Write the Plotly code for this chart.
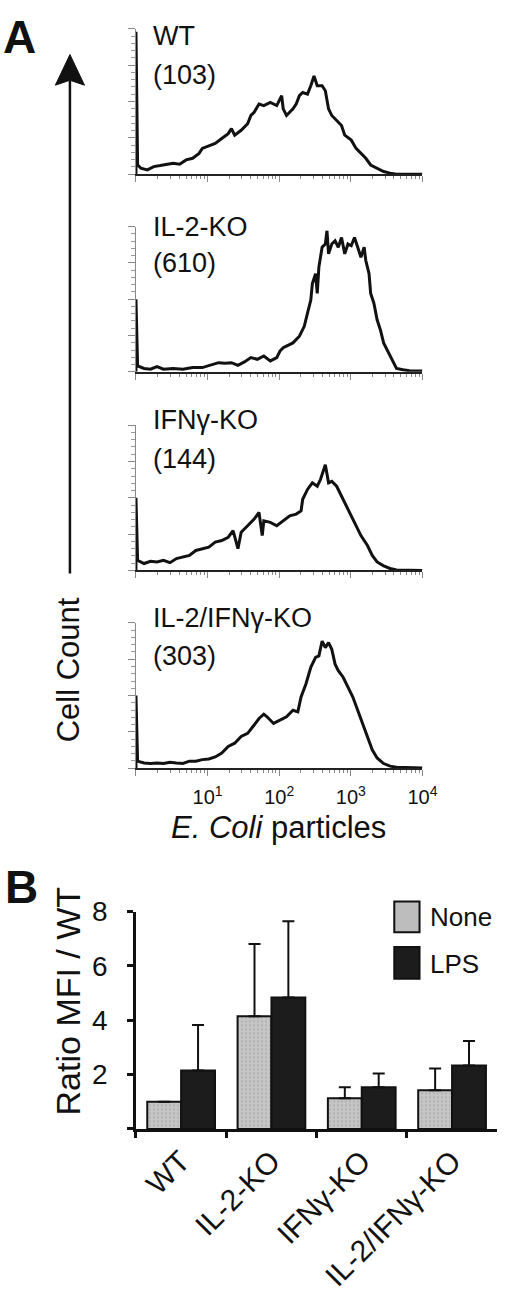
import plotly.graph_objects as go

W, H = 520, 1296
FONT = "Liberation Sans, Arial, Helvetica, sans-serif"


def px(x):
    return x / W


def py(y):
    return 1 - y / H


# ---------------- Panel A data (log10 position, relative cell count) ----------
genotypes = ["WT", "IL-2-KO", "IFNγ-KO", "IL-2/IFNγ-KO"]
mfi_labels = ["(103)", "(610)", "(144)", "(303)"]

wt_log = [0, 0, 0.023, 0.068, 0.158, 0.249, 0.339, 0.429, 0.520, 0.610, 0.700, 0.791,
          0.836, 0.881, 0.926, 1.017, 1.107, 1.198, 1.288, 1.333, 1.378, 1.469, 1.559,
          1.605, 1.650, 1.718, 1.785, 1.876, 1.966, 2.034, 2.056, 2.102, 2.147, 2.192,
          2.237, 2.282, 2.328, 2.395, 2.441, 2.486, 2.531, 2.599, 2.644, 2.689, 2.734,
          2.802, 2.870, 2.915, 3.006, 3.073, 3.141, 3.209, 3.277, 3.367, 3.458, 3.548,
          3.638, 4.0]
wt_cnt = [0, 98, 6.3, 4.1, 2.9, 5.2, 5.9, 6.8, 7.5, 6.8, 9.8, 10.9,
          12.7, 14.3, 17.7, 19.5, 21.1, 24.5, 27.9, 31.3, 26.8, 30.2, 34.7,
          40.4, 42.6, 48.3, 47.2, 49.4, 47.2, 54.0, 44.9, 40.4, 42.6, 44.9,
          48.3, 54.0, 56.2, 55.1, 60.8, 67.6, 60.8, 60.8, 57.4, 44.9, 40.4,
          36.9, 33.5, 26.8, 23.4, 17.7, 14.3, 10.9, 6.3, 4.1, 1.8, 0.7,
          0.0, 0.0]

il2_log = [0, 0, 0.023, 0.113, 0.203, 0.294, 0.384, 0.520, 0.655, 0.791, 0.926, 1.062,
           1.153, 1.243, 1.333, 1.424, 1.514, 1.605, 1.695, 1.785, 1.876, 1.966, 2.011,
           2.056, 2.102, 2.192, 2.282, 2.350, 2.395, 2.441, 2.463, 2.508, 2.531, 2.554,
           2.599, 2.644, 2.667, 2.689, 2.734, 2.780, 2.825, 2.870, 2.915, 2.960, 3.006,
           3.051, 3.096, 3.141, 3.186, 3.209, 3.254, 3.277, 3.322, 3.367, 3.412, 3.458,
           3.503, 3.548, 3.593, 3.638, 3.729, 3.819, 4.0]
il2_cnt = [0, 50, 4.1, 2.3, 1.8, 3.6, 1.8, 2.3, 1.8, 2.9, 2.9, 5.2,
           6.3, 5.9, 6.3, 4.5, 6.8, 9.8, 8.6, 10.9, 7.5, 9.8, 14.3,
           16.6, 17.7, 19.9, 24.5, 31.3, 40.4, 49.4, 60.8, 67.6, 54.0, 72.1,
           85.7, 88.0, 97.1, 81.2, 88.0, 90.2, 85.7, 92.5, 81.2, 88.0, 86.8,
           92.5, 85.7, 78.9, 85.7, 76.6, 67.6, 54.0, 47.2, 35.8, 29.0, 19.9,
           15.4, 10.9, 6.3, 2.3, 1.4, 0.7, 0.5]

ifn_log = [0, 0, 0.023, 0.113, 0.203, 0.294, 0.384, 0.475, 0.565, 0.655, 0.746, 0.836,
           0.926, 1.017, 1.107, 1.198, 1.288, 1.356, 1.424, 1.469, 1.559, 1.650, 1.718,
           1.763, 1.785, 1.876, 1.966, 2.056, 2.147, 2.237, 2.305, 2.328, 2.395, 2.463,
           2.531, 2.576, 2.644, 2.689, 2.734, 2.802, 2.870, 2.938, 3.006, 3.073, 3.141,
           3.232, 3.299, 3.367, 3.458, 3.548, 3.638, 4.0]
ifn_cnt = [0, 50, 7.0, 4.8, 6.3, 5.9, 7.0, 5.4, 8.2, 9.3, 10.4, 13.8,
           15.0, 16.1, 19.5, 20.6, 22.9, 27.4, 15.0, 26.3, 30.8, 35.4, 39.9,
           24.0, 34.2, 33.1, 30.8, 34.2, 37.6, 38.8, 41.0, 49.0, 55.8, 60.3,
           58.0, 62.6, 72.8, 60.3, 61.4, 58.0, 51.2, 44.4, 37.6, 30.8, 24.0,
           17.2, 10.4, 5.9, 3.2, 1.4, 0.3, 0.0]

dko_log = [0, 0, 0.023, 0.113, 0.203, 0.294, 0.384, 0.475, 0.565, 0.655, 0.746, 0.836,
           0.926, 1.017, 1.107, 1.198, 1.288, 1.378, 1.469, 1.559, 1.650, 1.718, 1.785,
           1.830, 1.921, 2.011, 2.102, 2.192, 2.260, 2.305, 2.373, 2.441, 2.508, 2.554,
           2.599, 2.644, 2.689, 2.734, 2.780, 2.825, 2.893, 2.960, 3.028, 3.096, 3.164,
           3.232, 3.299, 3.367, 3.458, 3.548, 3.638, 4.0]
dko_cnt = [0, 50, 4.8, 3.6, 3.2, 3.6, 3.2, 4.1, 3.6, 3.2, 4.8, 4.8,
           5.9, 6.3, 7.7, 10.4, 15.0, 17.2, 21.8, 24.0, 29.7, 34.2, 37.2,
           35.4, 30.8, 33.1, 35.4, 39.9, 38.8, 49.0, 58.0, 69.4, 76.2, 77.3,
           87.5, 83.0, 86.4, 81.8, 71.6, 67.1, 62.6, 55.8, 49.0, 39.9, 30.8,
           21.8, 12.7, 7.0, 3.2, 1.4, 0.7, 0.2]

hist_logs = [wt_log, il2_log, ifn_log, dko_log]
hist_cnts = [wt_cnt, il2_cnt, ifn_cnt, dko_cnt]

hist_xticks = [1, 10, 100, 1000, 10000]
hist_xticktext = ["", "10<sup>1</sup>", "10<sup>2</sup>", "10<sup>3</sup>", "10<sup>4</sup>"]

# ---------------- Panel B data ----------------
bar_categories = ["WT", "IL-2-KO", "IFNγ-KO", "IL-2/IFNγ-KO"]
none_vals = [1.0, 4.15, 1.13, 1.42]
none_err = [None, 2.65, 0.40, 0.80]
lps_vals = [2.15, 4.84, 1.53, 2.33]
lps_err = [1.67, 2.80, 0.51, 0.91]
bar_yticks = [0, 2, 4, 6, 8]
bar_yticktext = ["", "2", "4", "6", "8"]

# ---------------- geometry (reference pixels) ----------------
hist_top = [14, 214, 415, 615]
hist_h = 147
hist_x0, hist_x1 = 140, 435
label_off1 = [7, 0, -5, -5]
label_off2 = [47, 37, 34, 33]

fig = go.Figure()
layout = dict(
    width=W, height=H,
    margin=dict(l=0, r=0, t=0, b=0),
    paper_bgcolor="white", plot_bgcolor="white",
    showlegend=False,
    font=dict(family=FONT, color="#111"),
    barmode="group", bargap=0.25, bargroupgap=0.0,
)

minor_x = [m * 10 ** d for d in range(4) for m in range(2, 10)]
annotations = []
shapes = []

for i in range(4):
    n = i + 1
    xs = [10 ** v for v in hist_logs[i]]
    fig.add_trace(go.Scatter(
        x=xs, y=hist_cnts[i], mode="lines",
        line=dict(color="#111", width=3),
        xaxis=f"x{n}", yaxis=f"y{n}", hoverinfo="skip"))
    top = hist_top[i]
    bot = top + hist_h
    last = (i == 3)
    layout[f"xaxis{n}"] = dict(
        type="log", range=[0, 4], domain=[px(hist_x0), px(hist_x1)],
        anchor=f"y{n}", showline=True, linecolor="#222", linewidth=2,
        showgrid=False, zeroline=False,
        tickmode="array", tickvals=hist_xticks, ticktext=hist_xticktext,
        ticks="outside", ticklen=6, tickwidth=1, tickcolor="#888",
        showticklabels=last, tickfont=dict(size=20, color="#111"),
        ticklabelstandoff=4,
        minor=dict(tickmode="array", tickvals=minor_x, ticks="outside",
                   ticklen=3, tickwidth=1, tickcolor="#888"),
    )
    layout[f"yaxis{n}"] = dict(
        range=[0, 100], domain=[py(bot), py(top)], anchor=f"x{n}",
        showline=True, linecolor="#888", linewidth=1,
        showgrid=False, zeroline=False, showticklabels=False,
        tickmode="array", tickvals=[0, 25, 50, 75, 100],
        ticks="outside", ticklen=7, tickwidth=1, tickcolor="#888",
        minor=dict(tickmode="array", tickvals=list(range(0, 101, 5)),
                   ticks="outside", ticklen=4, tickwidth=1, tickcolor="#999"),
    )
    annotations.append(dict(
        x=px(155), y=py(top + label_off1[i]), xref="paper", yref="paper",
        text=genotypes[i], showarrow=False, xanchor="left", yanchor="middle",
        font=dict(size=27, color="#111")))
    annotations.append(dict(
        x=px(155), y=py(top + label_off2[i]), xref="paper", yref="paper",
        text=mfi_labels[i], showarrow=False, xanchor="left", yanchor="middle",
        font=dict(size=27, color="#111")))

# Bars
fig.add_trace(go.Bar(
    x=bar_categories, y=none_vals, name="None",
    marker=dict(color="#bdbdbd", line=dict(color="#111", width=2),
                pattern=dict(shape=".", fgcolor="#9c9c9c", bgcolor="#c6c6c6",
                             size=4, solidity=0.25)),
    error_y=dict(type="data", symmetric=False, array=none_err,
                 arrayminus=[0, 0, 0, 0], color="#111", thickness=2, width=6),
    xaxis="x5", yaxis="y5", hoverinfo="skip"))
fig.add_trace(go.Bar(
    x=bar_categories, y=lps_vals, name="LPS",
    marker=dict(color="#1c1c1c", line=dict(color="#111", width=2)),
    error_y=dict(type="data", symmetric=False, array=lps_err,
                 arrayminus=[0, 0, 0, 0], color="#111", thickness=2, width=6),
    xaxis="x5", yaxis="y5", hoverinfo="skip"))

layout["xaxis5"] = dict(
    type="category", domain=[px(140), px(512)], anchor="y5",
    showline=True, linecolor="#111", linewidth=2.5, showgrid=False,
    ticks="outside", tickson="boundaries", ticklen=6, tickwidth=2.5,
    tickcolor="#111", tickangle=-45, tickfont=dict(size=30, color="#111"),
)
layout["yaxis5"] = dict(
    range=[0, 8], domain=[py(1127), py(907)], anchor="x5",
    showline=True, linecolor="#111", linewidth=2.5, showgrid=False,
    zeroline=False, tickmode="array", tickvals=bar_yticks, ticktext=bar_yticktext,
    ticks="outside", ticklen=6, tickwidth=2.5, tickcolor="#111",
    tickfont=dict(size=28, color="#111"), ticklabelstandoff=14,
)

# Legend (custom swatches)
shapes.append(dict(type="rect", xref="paper", yref="paper",
                   x0=px(406), x1=px(432), y0=py(928), y1=py(897),
                   fillcolor="#bdbdbd", line=dict(color="#111", width=2)))
shapes.append(dict(type="rect", xref="paper", yref="paper",
                   x0=px(406), x1=px(432), y0=py(975), y1=py(943),
                   fillcolor="#1c1c1c", line=dict(color="#111", width=2)))
annotations.append(dict(x=px(441), y=py(913), xref="paper", yref="paper",
                        text="None", showarrow=False, xanchor="left", yanchor="middle",
                        font=dict(size=26, color="#111")))
annotations.append(dict(x=px(441), y=py(960), xref="paper", yref="paper",
                        text="LPS", showarrow=False, xanchor="left", yanchor="middle",
                        font=dict(size=26, color="#111")))

# Panel letters
annotations.append(dict(x=px(1), y=py(22), xref="paper", yref="paper", text="<b>A</b>",
                        showarrow=False, xanchor="left", yanchor="middle",
                        font=dict(size=46, color="#111")))
annotations.append(dict(x=px(3), y=py(882), xref="paper", yref="paper", text="<b>B</b>",
                        showarrow=False, xanchor="left", yanchor="middle",
                        font=dict(size=46, color="#111")))

# Axis titles
annotations.append(dict(x=px(287), y=py(822), xref="paper", yref="paper",
                        text="<i>E. Coli</i> particles", showarrow=False,
                        xanchor="center", yanchor="middle",
                        font=dict(size=31, color="#111")))
annotations.append(dict(x=px(70), y=py(662), xref="paper", yref="paper",
                        text="Cell Count", showarrow=False, textangle=-90,
                        xanchor="center", yanchor="middle",
                        font=dict(size=31, color="#111")))
annotations.append(dict(x=px(70), y=py(997), xref="paper", yref="paper",
                        text="Ratio MFI / WT", showarrow=False, textangle=-90,
                        xanchor="center", yanchor="middle",
                        font=dict(size=34, color="#111")))

# Cell count arrow
shapes.append(dict(type="line", xref="paper", yref="paper",
                   x0=px(72), x1=px(72), y0=py(565), y1=py(66),
                   line=dict(color="#111", width=2.5)))
shapes.append(dict(type="path", xref="paper", yref="paper",
                   path=f"M {px(72)} {py(40)} L {px(57)} {py(71)} L {px(72)} {py(66)} L {px(87)} {py(71)} Z",
                   fillcolor="#111", line=dict(color="#111", width=1)))

layout["annotations"] = annotations
layout["shapes"] = shapes
fig.update_layout(**layout)
# Remove the browser's default 8px page margin so the figure sits at (0, 0).
fig.write_html("out.html",
               config={"displayModeBar": False},
               post_script="document.body.style.margin='0';document.body.style.padding='0';")
